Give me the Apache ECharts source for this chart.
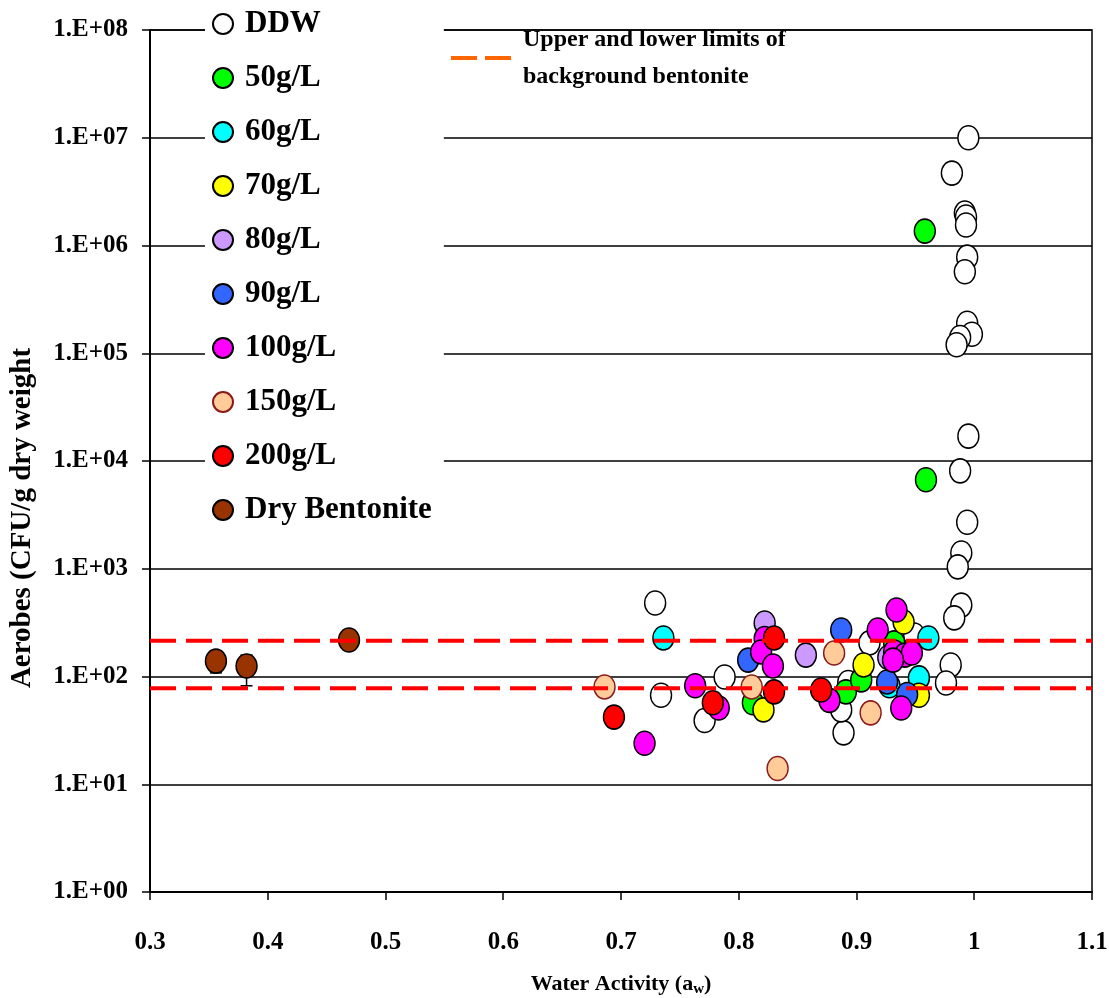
<!DOCTYPE html>
<html>
<head>
<meta charset="utf-8">
<script src="https://cdn.jsdelivr.net/npm/echarts@6/dist/echarts.min.js"></script>
<style>html,body{margin:0;padding:0;background:#fff}#c{width:1109px;height:998px}</style>
</head>
<body>
<div id="c"></div>
<script>
// ---------- data ----------
const seriesNames = ['DDW', '50g/L', '60g/L', '70g/L', '80g/L', '90g/L', '100g/L', '150g/L', '200g/L', 'Dry Bentonite'];
const ddw = [[0.995, 1.0e7], [0.981, 4.7e6], [0.992, 2.0e6], [0.993, 1.84e6], [0.993, 1.55e6], [0.994, 7.8e5], [0.992, 5.7e5],
  [0.994, 1.9e5], [0.998, 1.5e5], [0.988, 1.4e5], [0.985, 1.2e5], [0.995, 1.7e4], [0.988, 8.1e3], [0.994, 2.7e3],
  [0.989, 1.4e3], [0.986, 1.04e3], [0.989, 460], [0.983, 350], [0.980, 128], [0.976, 87], [0.729, 481], [0.734, 67],
  [0.788, 99], [0.771, 39], [0.889, 30], [0.887, 49], [0.911, 205], [0.949, 243], [0.893, 88]];
const g50 = [[0.958, 1.36e6], [0.959, 6.7e3], [0.812, 57], [0.891, 72], [0.904, 93], [0.932, 205]];
const g60 = [[0.736, 228], [0.961, 228], [0.953, 97], [0.928, 82]];
const g70 = [[0.821, 49], [0.940, 320], [0.906, 128], [0.953, 67]];
const g80 = [[0.822, 314], [0.857, 158], [0.927, 150]];
const g90 = [[0.808, 142], [0.887, 270], [0.926, 89], [0.943, 68]];
const g100 = [[0.720, 24], [0.763, 82], [0.783, 51], [0.822, 225], [0.819, 169], [0.829, 125], [0.877, 60], [0.918, 270],
  [0.934, 414], [0.932, 169], [0.941, 158], [0.947, 165], [0.931, 142], [0.938, 51]];
const g150 = [[0.686, 80], [0.811, 80], [0.833, 14], [0.881, 165], [0.912, 46]];
const g200 = [[0.694, 42], [0.778, 57], [0.830, 228], [0.830, 72], [0.870, 75]];
const bentonite = [[0.356, 139], [0.382, 125], [0.469, 218]];
const bentoniteErr = [[0.356, 108, 139], [0.382, 82, 158]]; // x, low, high
const upperLimit = 215;
const lowerLimit = 78;
const xRange = [0.3, 1.1];
const limitName = 'Upper and lower limits of\nbackground bentonite';

const allData = [ddw, g50, g60, g70, g80, g90, g100, g150, g200, bentonite];
const fills = ['#ffffff', '#00ff00', '#00ffff', '#ffff00', '#cc99ff', '#3366ff', '#ff00ff', '#ffcc99', '#ff0000', '#993300'];
const borders = ['#000', '#000', '#000', '#000', '#000', '#000', '#000', '#8b1a1a', '#000', '#000'];

// ---------- chart ----------
const FONT = '"Liberation Serif","Times New Roman",serif';
const ellipse = 'path://M0,12A10.5,12 0 1 1 21,12A10.5,12 0 1 1 0,12Z';

const series = seriesNames.map((n, i) => ({
  name: n,
  type: 'scatter',
  symbol: ellipse,
  symbolSize: [21, 24],
  data: allData[i],
  itemStyle: { color: fills[i], borderColor: borders[i], borderWidth: 1.5, opacity: 1 },
  emphasis: { disabled: true },
  z: 3
}));

series.unshift({
  type: 'custom',
  name: 'err',
  data: bentoniteErr,
  z: 2,
  renderItem: (params, api) => {
    const x = api.value(0), lo = api.value(1), hi = api.value(2);
    const a = api.coord([x, lo]), b = api.coord([x, hi]);
    const w = 6;
    const st = { stroke: '#000', lineWidth: 1.5 };
    return {
      type: 'group', children: [
        { type: 'line', shape: { x1: a[0], y1: a[1], x2: b[0], y2: b[1] }, style: st },
        { type: 'line', shape: { x1: a[0] - w, y1: a[1], x2: a[0] + w, y2: a[1] }, style: st },
        { type: 'line', shape: { x1: b[0] - w, y1: b[1], x2: b[0] + w, y2: b[1] }, style: st }
      ]
    };
  }
});

[upperLimit, lowerLimit].forEach(v => {
  series.push({
    name: limitName,
    type: 'line',
    data: [[xRange[0], v], [xRange[1], v]],
    showSymbol: false,
    symbol: 'none',
    silent: true,
    itemStyle: { color: '#ff6600' },
    lineStyle: { color: '#ff0000', width: 4, type: [26, 10] },
    emphasis: { disabled: true },
    z: 10
  });
});

const chart = echarts.init(document.getElementById('c'), null, { renderer: 'canvas' });
chart.setOption({
  backgroundColor: '#fff',
  animation: false,
  grid: {
    left: 150, right: 17, top: 30, bottom: 106, containLabel: false, outerBoundsMode: 'none',
    show: true, borderColor: '#000', borderWidth: 1.5, backgroundColor: 'transparent'
  },
  xAxis: {
    type: 'value', min: 0.3, max: 1.1, interval: 0.1,
    name: 'Water Activity (a{s|w})', nameLocation: 'middle', nameGap: 80,
    nameTextStyle: {
      fontFamily: FONT, fontWeight: 'bold', fontSize: 22, color: '#000',
      rich: { s: { fontFamily: FONT, fontWeight: 'bold', fontSize: 15, color: '#000', verticalAlign: 'bottom', padding: [10, 0, 0, 0] } }
    },
    axisLine: { lineStyle: { color: '#000', width: 2 } },
    axisTick: { inside: false, length: 8, lineStyle: { color: '#000', width: 1.5 } },
    splitLine: { show: false },
    axisLabel: {
      margin: 38, fontFamily: FONT, fontWeight: 'bold', fontSize: 25, color: '#000',
      formatter: v => String(+v.toFixed(1))
    }
  },
  yAxis: {
    type: 'log', logBase: 10, min: 1, max: 1e8, splitNumber: 8,
    name: 'Aerobes (CFU/g dry weight', nameLocation: 'middle', nameGap: 113, nameRotate: 90,
    nameTextStyle: { fontFamily: FONT, fontWeight: 'bold', fontSize: 29, color: '#000', padding: [0, 114, 0, 0] },
    axisLine: { show: true, lineStyle: { color: '#000', width: 2 } },
    axisTick: { inside: false, length: 8, lineStyle: { color: '#000', width: 1.5 } },
    minorTick: { show: false },
    splitLine: { show: true, lineStyle: { color: '#000', width: 1.5 } },
    axisLabel: {
      margin: 22, fontFamily: FONT, fontWeight: 'bold', fontSize: 25, color: '#000',
      formatter: v => '1.E+' + String(Math.round(Math.log10(v))).padStart(2, '0')
    }
  },
  legend: [
    {
      data: seriesNames, orient: 'vertical', left: 205, top: 2,
      padding: [5, 12, 6, 7], backgroundColor: '#fff',
      icon: 'circle', itemWidth: 20, itemHeight: 20, itemGap: 20,
      selectedMode: false,
      textStyle: { fontFamily: FONT, fontWeight: 'bold', fontSize: 31, color: '#000', lineHeight: 34, padding: [0, 0, 0, 7] }
    },
    {
      data: [{ name: limitName, icon: 'path://M0,0H26V4H0ZM34,0H60V4H34Z', itemStyle: { color: '#ff6600', borderWidth: 0 } }],
      left: 448, top: 8, padding: 3,
      itemWidth: 60, itemHeight: 4,
      selectedMode: false,
      textStyle: { fontFamily: FONT, fontWeight: 'bold', fontSize: 24, color: '#000', lineHeight: 37, padding: [20, 0, 0, 7] }
    }
  ],
  series: series
});
</script>
</body>
</html>
